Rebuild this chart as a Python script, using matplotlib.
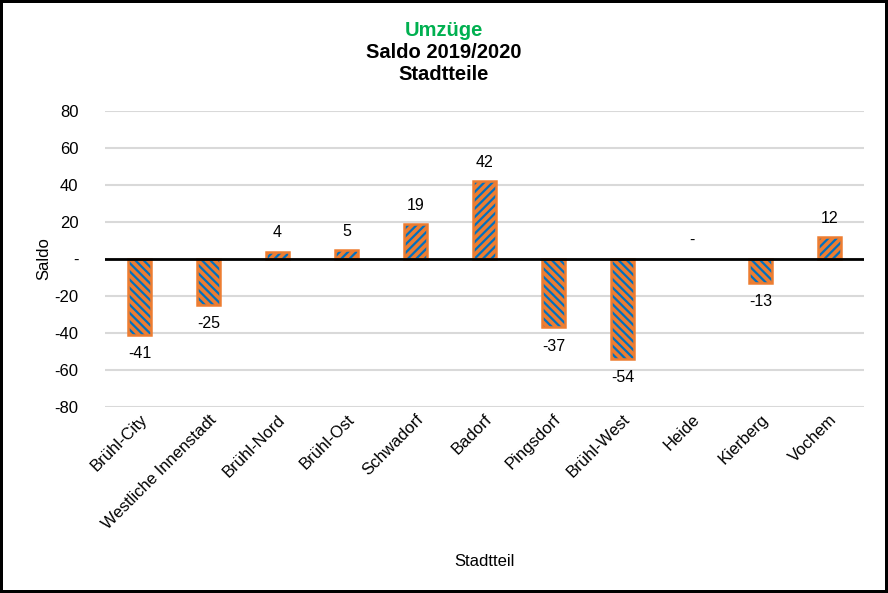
import matplotlib.pyplot as plt
import matplotlib.ticker as mticker

plt.rcParams['font.family'] = ['Liberation Sans', 'DejaVu Sans']
plt.rcParams['hatch.linewidth'] = 1.6

# Saldo der Umzüge je Stadtteil
stadtteile = ['Brühl-City', 'Westliche Innenstadt', 'Brühl-Nord', 'Brühl-Ost',
              'Schwadorf', 'Badorf', 'Pingsdorf', 'Brühl-West', 'Heide',
              'Kierberg', 'Vochem']
saldo = [-41, -25, 4, 5, 19, 42, -37, -54, 0, -13, 12]

orange = '#ED7D31'
blau = '#0070C0'


def fmt(v, pos=None):
    # Excel-Buchhaltungsformat: 0 als "-"
    return '-' if v == 0 else '%d' % v


fig = plt.figure(figsize=(8.88, 5.93), dpi=100)
fig.patch.set_edgecolor('black')
fig.patch.set_linewidth(3)
ax = fig.add_axes([105 / 888, 1 - 407 / 593, (864 - 105) / 888, (407 - 111) / 593])

x = range(len(stadtteile))
for i, v in zip(x, saldo):
    if v == 0:
        continue
    h = '////' if v > 0 else '\\\\\\\\'
    ax.bar(i, v, width=0.32, color=orange, edgecolor=blau, hatch=h, linewidth=0, zorder=3)
    ax.bar(i, v, width=0.32, fill=False, edgecolor=orange, linewidth=1.8, zorder=4)

for i, v in zip(x, saldo):
    if v >= 0:
        ax.annotate(fmt(v), (i, v), xytext=(0, 8), textcoords='offset points',
                    ha='center', va='bottom', fontsize=11.5)
    else:
        ax.annotate(fmt(v), (i, v), xytext=(0, -8), textcoords='offset points',
                    ha='center', va='top', fontsize=11.5)

ax.set_xlim(-0.5, len(stadtteile) - 0.5)
ax.set_ylim(-80, 80)
ax.yaxis.set_major_locator(mticker.MultipleLocator(20))
ax.yaxis.set_major_formatter(mticker.FuncFormatter(fmt))
ax.grid(axis='y', color='#D9D9D9', linewidth=1.5, zorder=0)
ax.axhline(0, color='black', linewidth=2, zorder=5)
for s in ax.spines.values():
    s.set_visible(False)
ax.tick_params(length=0, labelsize=12)
ax.tick_params(axis='y', pad=19)
ax.set_xticks(list(x))
ax.set_xticklabels(stadtteile, rotation=45, ha='right', rotation_mode='anchor')
ax.set_ylabel('Saldo', fontsize=12, labelpad=2)
ax.set_xlabel('Stadtteil', fontsize=12, labelpad=16)

fig.text(444 / 888, 1 - 30 / 593, 'Umzüge', color='#00B050', fontsize=14.5,
         fontweight='bold', ha='center', va='center')
fig.text(444 / 888, 1 - 52 / 593, 'Saldo 2019/2020', fontsize=14.5,
         fontweight='bold', ha='center', va='center')
fig.text(444 / 888, 1 - 75 / 593, 'Stadtteile', fontsize=14.5,
         fontweight='bold', ha='center', va='center')

fig.savefig('out.png', dpi=100)
